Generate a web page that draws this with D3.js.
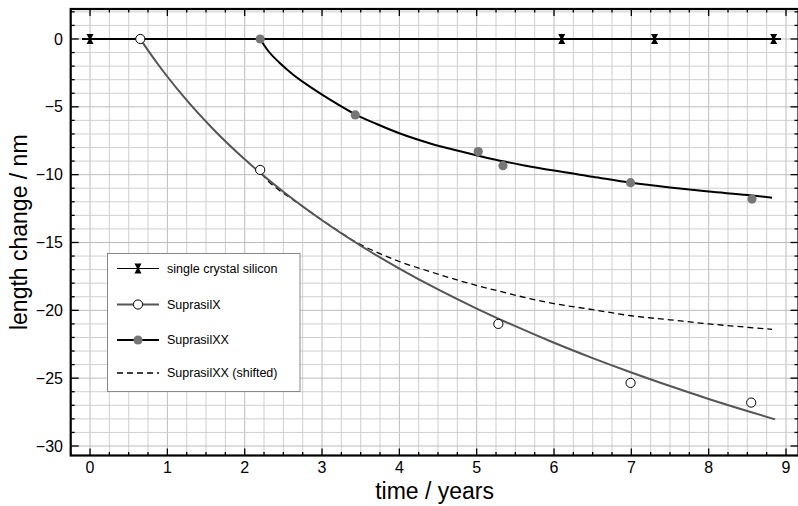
<!DOCTYPE html>
<html><head><meta charset="utf-8">
<script src="https://cdn.jsdelivr.net/npm/d3@7"></script>
<style>body{margin:0;background:#fff}svg{display:block}text{font-family:"Liberation Sans",Arial,sans-serif}</style>
</head><body><svg id="c" width="798" height="506"></svg>
<script>
// ---- data ----
const xTicks = [0,1,2,3,4,5,6,7,8,9];
const xTickLabels = ["0","1","2","3","4","5","6","7","8","9"];
const yTicks = [0,-5,-10,-15,-20,-25,-30];
const yTickLabels = ["0","−5","−10","−15","−20","−25","−30"];

const siliconX = [0, 6.1, 7.3, 8.84];
const siliconY = [0, 0, 0, 0];
const siliconLineX = [-0.1, 8.93];
const siliconLineY = [0, 0];

const supXX = [0.65, 2.2, 5.28, 6.99, 8.55];
const supXY = [0, -9.65, -21.0, -25.35, -26.8];
const supXFitX = [0.65,0.75,0.9,1.2,1.6,2.0,2.5,3.0,3.5,4.0,4.5,5.0,5.5,6.0,6.5,7.0,7.5,8.0,8.5,8.86];
const supXFitY = [0,-0.84,-2.03,-4.18,-6.69,-8.87,-11.26,-13.36,-15.24,-16.92,-18.46,-19.87,-21.17,-22.39,-23.52,-24.58,-25.58,-26.53,-27.42,-28.04];

const supXXX = [2.2, 3.43, 5.02, 5.34, 6.99, 8.56];
const supXXY = [0, -5.6, -8.3, -9.34, -10.59, -11.8];
const supXXFitX = [2.2,2.3,2.45,2.6,2.8,3.0,3.2,3.43,3.7,4.0,4.4,4.8,5.2,5.6,6.0,6.5,7.0,7.5,8.0,8.5,8.82];
const supXXFitY = [0,-0.85,-1.75,-2.5,-3.35,-4.1,-4.8,-5.55,-6.25,-6.95,-7.7,-8.3,-8.85,-9.3,-9.7,-10.15,-10.6,-10.95,-11.25,-11.5,-11.7];

const shiftedX = [2.22,2.3,2.4,2.6,2.8,3.0,3.2,3.4,3.7,4.0,4.4,4.8,5.3,5.9,6.5,7.0,7.5,8.0,8.5,8.82];
const shiftedY = [-9.9,-10.45,-10.95,-11.75,-12.55,-13.35,-14.1,-14.85,-15.7,-16.4,-17.15,-17.85,-18.6,-19.4,-19.95,-20.4,-20.7,-21.0,-21.25,-21.4];

const legendLabels = ["single crystal silicon","SuprasilX","SuprasilXX","SuprasilXX (shifted)"];

// ---- layout ----
const L = 70.7, R = 798.5, T = 9, B = 455.5;
const x = d3.scaleLinear().domain([-0.25, -0.25 + (R - L) / 77.33]).range([L, R]);
const y = d3.scaleLinear().domain([-30.7, 2.21]).range([B, T]);

const svg = d3.select("#c");
svg.append("defs").append("clipPath").attr("id","clip")
  .append("rect").attr("x",L).attr("y",T).attr("width",R-L).attr("height",B-T);

// grid
const g = svg.append("g").attr("clip-path","url(#clip)");
const xGrid = d3.range(0, 38).map(i => -0.25 + i*0.25);
const yGrid = d3.range(-30, 3);
g.selectAll(".gx").data(xGrid).enter().append("line")
  .attr("x1",d=>x(d)).attr("x2",d=>x(d)).attr("y1",T).attr("y2",B)
  .attr("stroke",d=>Math.abs(d-Math.round(d))<1e-9?"#bcbcbc":"#cfcfcf").attr("stroke-width",1);
g.selectAll(".gy").data(yGrid).enter().append("line")
  .attr("y1",d=>y(d)).attr("y2",d=>y(d)).attr("x1",L).attr("x2",R)
  .attr("stroke",d=>d%5===0?"#bcbcbc":"#cfcfcf").attr("stroke-width",1);

const line = d3.line().x(d=>x(d[0])).y(d=>y(d[1])).curve(d3.curveMonotoneX);
const zip = (a,b)=>a.map((v,i)=>[v,b[i]]);

// lines
g.append("path").attr("d",line(zip(siliconLineX,siliconLineY))).attr("fill","none").attr("stroke","#000").attr("stroke-width",1.2).attr("shape-rendering","crispEdges");
g.append("path").attr("d",line(zip(shiftedX,shiftedY))).attr("fill","none").attr("stroke","#000").attr("stroke-width",1.3).attr("stroke-dasharray","6,4");
g.append("path").attr("d",line(zip(supXFitX,supXFitY))).attr("fill","none").attr("stroke","#555").attr("stroke-width",2);
g.append("path").attr("d",line(zip(supXXFitX,supXXFitY))).attr("fill","none").attr("stroke","#000").attr("stroke-width",2);

// markers
const hourglass = "M-3.5,-5L3.5,-5L0.9,0L3.5,5L-3.5,5L-0.9,0Z";
g.selectAll(".si").data(zip(siliconX,siliconY)).enter().append("path")
  .attr("d",hourglass).attr("transform",d=>`translate(${x(d[0])},${y(d[1])})`).attr("fill","#000");
g.selectAll(".sx").data(zip(supXX,supXY)).enter().append("circle")
  .attr("cx",d=>x(d[0])).attr("cy",d=>y(d[1])).attr("r",4.6).attr("fill","#fff").attr("stroke","#000").attr("stroke-width",1);
g.selectAll(".sxx").data(zip(supXXX,supXXY)).enter().append("circle")
  .attr("cx",d=>x(d[0])).attr("cy",d=>y(d[1])).attr("r",4.6).attr("fill","#777");

// ticks
const ax = svg.append("g");
const xMinor = d3.range(0, 38).map(i => -0.25 + i*0.25).filter(d => Math.abs(d-Math.round(d))>1e-9);
const yMinor = d3.range(-30, 3).filter(d => d%5!==0);
function tickLines(vals, len, isX) {
  vals.forEach(v => {
    if (isX) {
      const px = x(v);
      ax.append("line").attr("x1",px).attr("x2",px).attr("y1",B).attr("y2",B-len).attr("stroke","#000").attr("stroke-width",1.3);
      ax.append("line").attr("x1",px).attr("x2",px).attr("y1",T).attr("y2",T+len).attr("stroke","#000").attr("stroke-width",1.3);
    } else {
      const py = y(v);
      ax.append("line").attr("y1",py).attr("y2",py).attr("x1",L).attr("x2",L+len).attr("stroke","#000").attr("stroke-width",1.3);
      ax.append("line").attr("y1",py).attr("y2",py).attr("x1",R).attr("x2",R-len).attr("stroke","#000").attr("stroke-width",1.3);
    }
  });
}
tickLines(xTicks, 7, true);
tickLines(xMinor, 3.5, true);
tickLines(yTicks, 8, false);
tickLines(yMinor, 4, false);

// spines
ax.append("rect").attr("x",L).attr("y",T).attr("width",R-L).attr("height",B-T)
  .attr("fill","none").attr("stroke","#000").attr("stroke-width",2.2);

// tick labels
svg.selectAll(".xl").data(xTicks).enter().append("text")
  .attr("x",d=>x(d)).attr("y",473).attr("text-anchor","middle").attr("font-size",16).text((d,i)=>xTickLabels[i]);
svg.selectAll(".yl").data(yTicks).enter().append("text")
  .attr("x",63).attr("y",d=>y(d)).attr("dy","0.35em").attr("text-anchor","end").attr("font-size",16).text((d,i)=>yTickLabels[i]);

// axis titles
svg.append("text").attr("x",(L+R)/2).attr("y",499).attr("text-anchor","middle").attr("font-size",23).text("time / years");
svg.append("text").attr("transform",`translate(27,${(T+B)/2}) rotate(-90)`).attr("text-anchor","middle").attr("font-size",23).text("length change / nm");

// legend
const lg = svg.append("g");
lg.append("rect").attr("x",107.5).attr("y",253.5).attr("width",192.5).attr("height",138).attr("fill","#fff").attr("stroke","#888").attr("stroke-width",1);
const rowsY = [268.5, 304.5, 340, 373];
const lx1 = 117, lx2 = 159, lmx = 138;
lg.append("line").attr("x1",lx1).attr("x2",lx2).attr("y1",rowsY[0]).attr("y2",rowsY[0]).attr("stroke","#000").attr("stroke-width",1.1);
lg.append("path").attr("d",hourglass).attr("transform",`translate(${lmx},${rowsY[0]})`).attr("fill","#000");
lg.append("line").attr("x1",lx1).attr("x2",lx2).attr("y1",rowsY[1]).attr("y2",rowsY[1]).attr("stroke","#555").attr("stroke-width",2);
lg.append("circle").attr("cx",lmx).attr("cy",rowsY[1]).attr("r",4.6).attr("fill","#fff").attr("stroke","#000");
lg.append("line").attr("x1",lx1).attr("x2",lx2).attr("y1",rowsY[2]).attr("y2",rowsY[2]).attr("stroke","#000").attr("stroke-width",2);
lg.append("circle").attr("cx",lmx).attr("cy",rowsY[2]).attr("r",4.6).attr("fill","#777");
lg.append("line").attr("x1",lx1).attr("x2",lx2).attr("y1",rowsY[3]).attr("y2",rowsY[3]).attr("stroke","#000").attr("stroke-width",1.3).attr("stroke-dasharray","6,4");
lg.selectAll(".lt").data(legendLabels).enter().append("text")
  .attr("x",167).attr("y",(d,i)=>rowsY[i]).attr("dy","0.35em").attr("font-size",12.5).text(d=>d);
</script></body></html>
